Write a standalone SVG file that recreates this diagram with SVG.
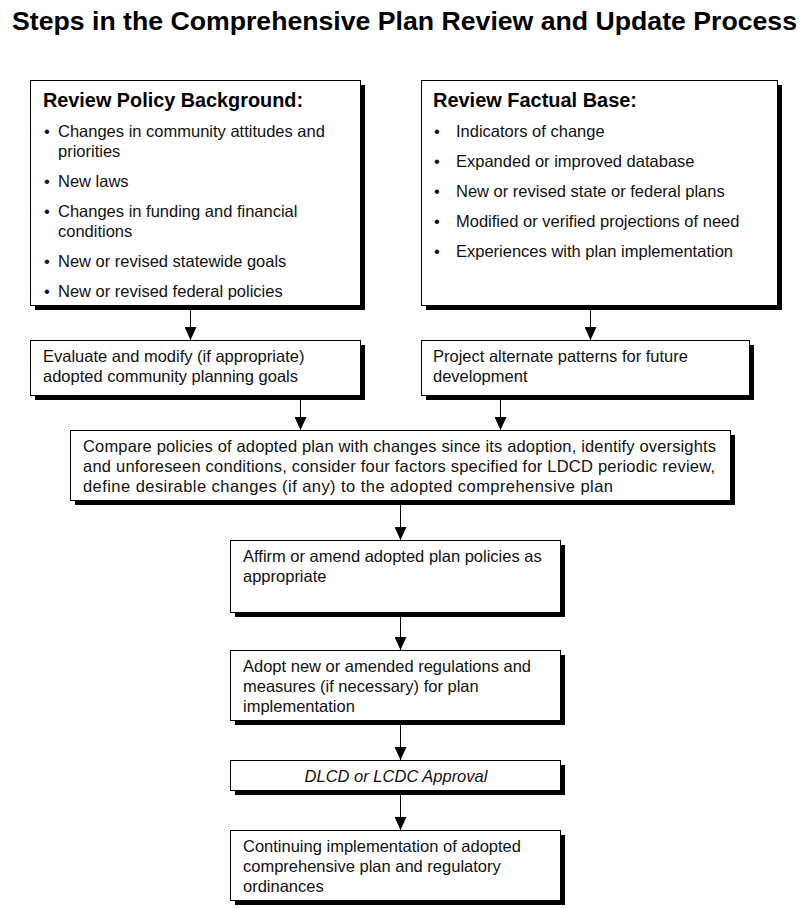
<svg xmlns="http://www.w3.org/2000/svg" width="810" height="908" viewBox="0 0 810 908">
<style>
.sh{fill:#000}
.bx{fill:#fff;stroke:#000;stroke-width:1}
.t{font-family:"Liberation Sans",Arial,sans-serif;font-size:16.5px;fill:#111}
.h{font-family:"Liberation Sans",Arial,sans-serif;font-size:19.5px;font-weight:bold;fill:#000}
.it{font-style:italic}
.c{stroke:#000;stroke-width:1;fill:none;marker-end:url(#ah)}
</style>
<defs>
<marker id="ah" viewBox="0 0 13 12" markerWidth="13" markerHeight="12" refX="13" refY="6" orient="auto" markerUnits="userSpaceOnUse">
<path d="M0,0 L13,6 L0,12 z" fill="#000"/>
</marker>
</defs>
<rect width="810" height="908" fill="#fff"/>
<text x="12" y="30" font-family="Liberation Sans,Arial,sans-serif" font-size="26.5" font-weight="bold" textLength="785" lengthAdjust="spacingAndGlyphs">Steps in the Comprehensive Plan Review and Update Process</text>

<g id="policy">
<rect class="sh" x="35" y="85" width="330" height="225"/>
<rect class="bx" x="30.5" y="80.5" width="330" height="225"/>
<text class="h" x="43" y="107" textLength="260" lengthAdjust="spacingAndGlyphs">Review Policy Background:</text>
<text class="t" x="44" y="137">•</text><text class="t" x="58" y="137">Changes in community attitudes and</text>
<text class="t" x="58" y="157">priorities</text>
<text class="t" x="44" y="187">•</text><text class="t" x="58" y="187">New laws</text>
<text class="t" x="44" y="217">•</text><text class="t" x="58" y="217">Changes in funding and financial</text>
<text class="t" x="58" y="237">conditions</text>
<text class="t" x="44" y="267">•</text><text class="t" x="58" y="267">New or revised statewide goals</text>
<text class="t" x="44" y="297">•</text><text class="t" x="58" y="297">New or revised federal policies</text>
</g>

<g id="factual">
<rect class="sh" x="426" y="85" width="356" height="225"/>
<rect class="bx" x="421.5" y="80.5" width="356" height="225"/>
<text class="h" x="433" y="107" textLength="204" lengthAdjust="spacingAndGlyphs">Review Factual Base:</text>
<text class="t" x="434" y="137">•</text><text class="t" x="456" y="137">Indicators of change</text>
<text class="t" x="434" y="167">•</text><text class="t" x="456" y="167">Expanded or improved database</text>
<text class="t" x="434" y="197">•</text><text class="t" x="456" y="197">New or revised state or federal plans</text>
<text class="t" x="434" y="227">•</text><text class="t" x="456" y="227">Modified or verified projections of need</text>
<text class="t" x="434" y="257">•</text><text class="t" x="456" y="257">Experiences with plan implementation</text>
</g>

<g id="evaluate">
<rect class="sh" x="35" y="345" width="330" height="55"/>
<rect class="bx" x="30.5" y="340.5" width="330" height="55"/>
<text class="t" x="43" y="362">Evaluate and modify (if appropriate)</text>
<text class="t" x="43" y="382">adopted community planning goals</text>
</g>

<g id="project">
<rect class="sh" x="426" y="345" width="328" height="55"/>
<rect class="bx" x="421.5" y="340.5" width="328" height="55"/>
<text class="t" x="433" y="362">Project alternate patterns for future</text>
<text class="t" x="433" y="382">development</text>
</g>

<g id="compare">
<rect class="sh" x="75" y="435" width="660" height="70"/>
<rect class="bx" x="70.5" y="430.5" width="660" height="70"/>
<text class="t" x="83" y="452" textLength="633" lengthAdjust="spacing">Compare policies of adopted plan with changes since its adoption, identify oversights</text>
<text class="t" x="83" y="472" textLength="632" lengthAdjust="spacing">and unforeseen conditions, consider four factors specified for LDCD periodic review,</text>
<text class="t" x="83" y="492" textLength="530" lengthAdjust="spacing">define desirable changes (if any) to the adopted comprehensive plan</text>
</g>

<g id="affirm">
<rect class="sh" x="235" y="545" width="330" height="72"/>
<rect class="bx" x="230.5" y="540.5" width="330" height="72"/>
<text class="t" x="243" y="562">Affirm or amend adopted plan policies as</text>
<text class="t" x="243" y="582">appropriate</text>
</g>

<g id="adopt">
<rect class="sh" x="235" y="655" width="330" height="70"/>
<rect class="bx" x="230.5" y="650.5" width="330" height="70"/>
<text class="t" x="243" y="672">Adopt new or amended regulations and</text>
<text class="t" x="243" y="692">measures (if necessary) for plan</text>
<text class="t" x="243" y="712">implementation</text>
</g>

<g id="approval">
<rect class="sh" x="235" y="765" width="330" height="30"/>
<rect class="bx" x="230.5" y="760.5" width="330" height="30"/>
<text class="t it" x="396" y="782" text-anchor="middle">DLCD or LCDC Approval</text>
</g>

<g id="continuing">
<rect class="sh" x="235" y="835" width="330" height="70"/>
<rect class="bx" x="230.5" y="830.5" width="330" height="70"/>
<text class="t" x="243" y="852">Continuing implementation of adopted</text>
<text class="t" x="243" y="872">comprehensive plan and regulatory</text>
<text class="t" x="243" y="892">ordinances</text>
</g>

<g id="connectors">
<line class="c" x1="190.5" y1="310" x2="190.5" y2="340"/>
<line class="c" x1="590.5" y1="310" x2="590.5" y2="340"/>
<line class="c" x1="300.5" y1="400" x2="300.5" y2="430"/>
<line class="c" x1="500.5" y1="400" x2="500.5" y2="430"/>
<line class="c" x1="400.5" y1="505" x2="400.5" y2="540"/>
<line class="c" x1="400.5" y1="617" x2="400.5" y2="650"/>
<line class="c" x1="400.5" y1="725" x2="400.5" y2="760"/>
<line class="c" x1="400.5" y1="795" x2="400.5" y2="830"/>
</g>
</svg>
